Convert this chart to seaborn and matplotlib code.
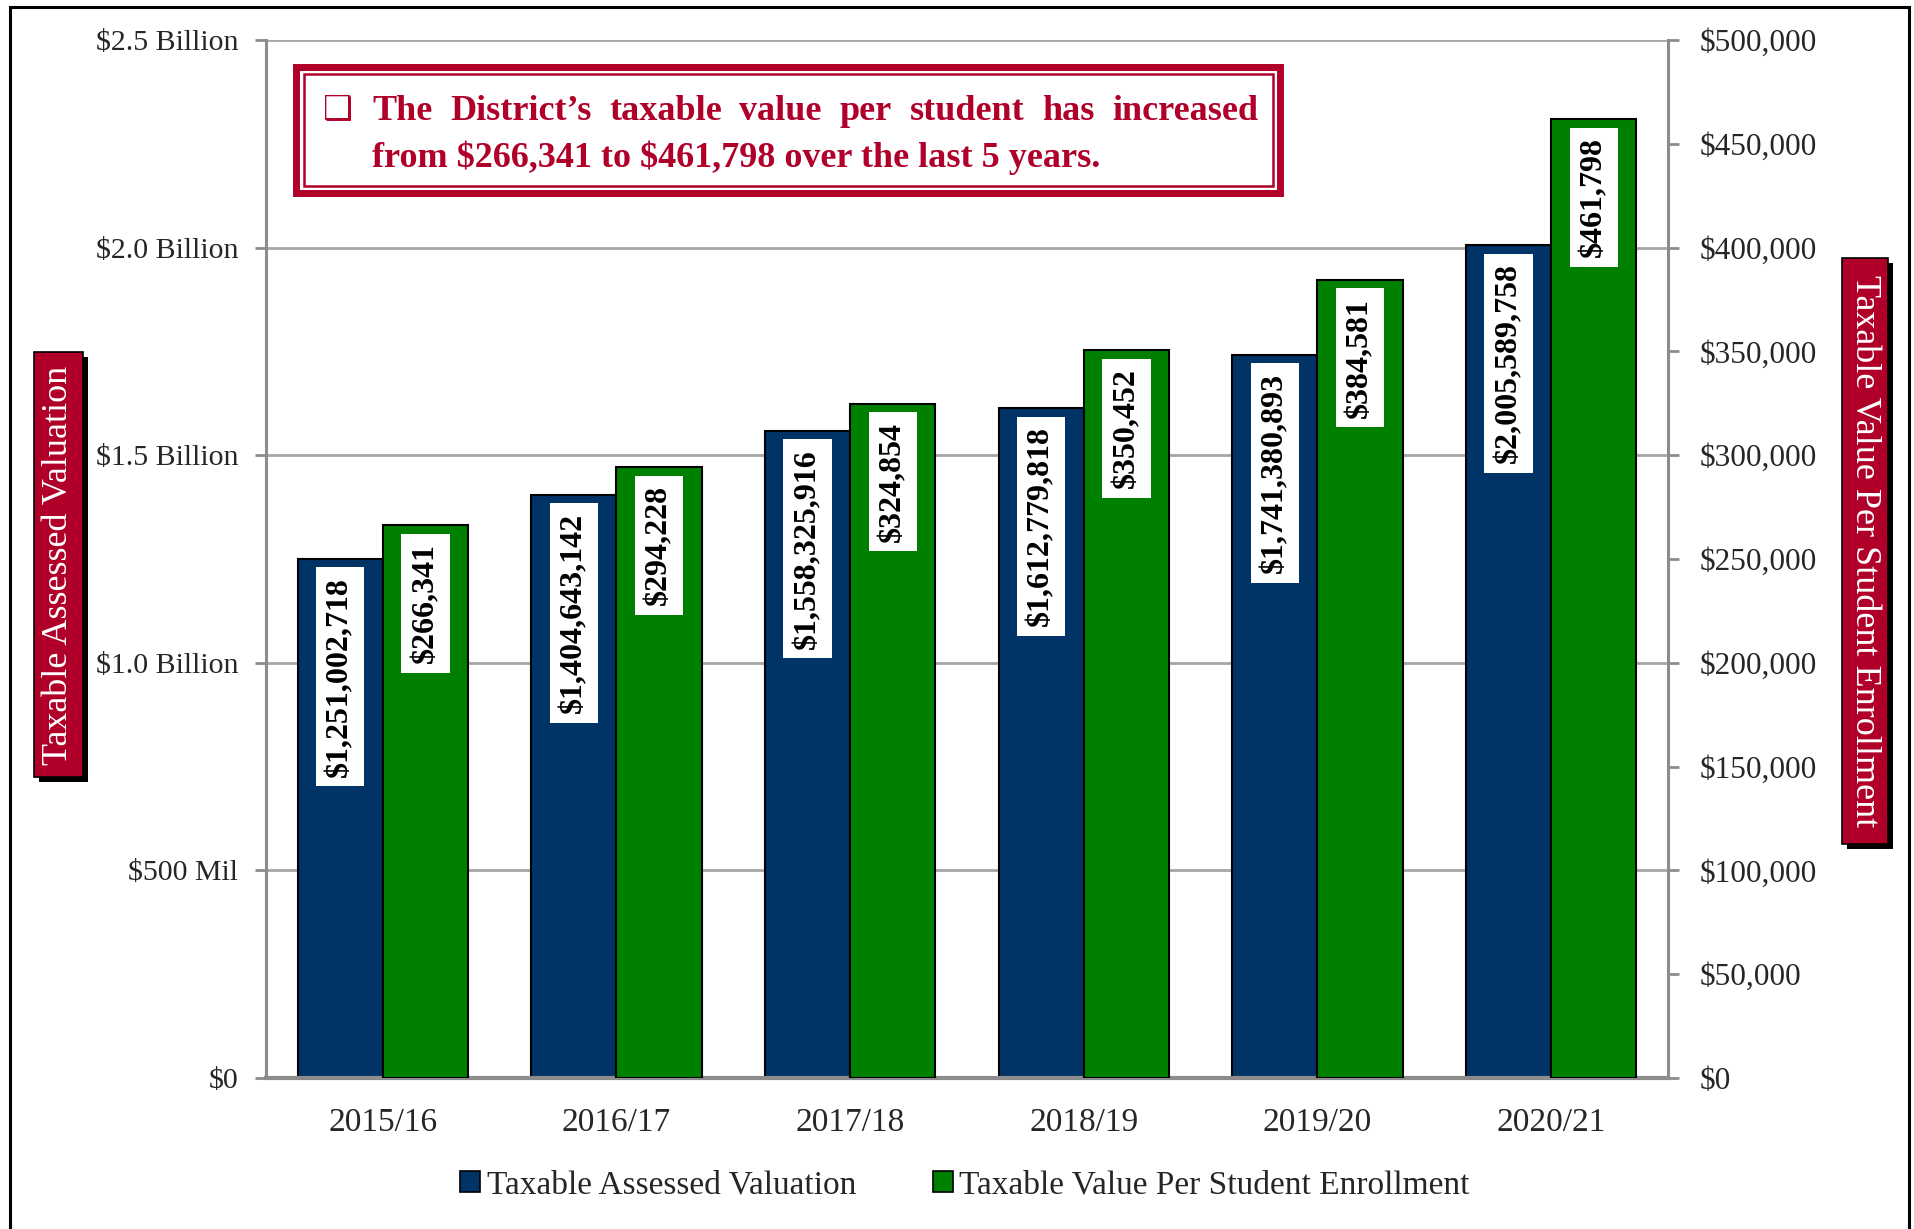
import numpy as np
import pandas as pd
import matplotlib
matplotlib.use('Agg')
import matplotlib.pyplot as plt
from matplotlib.patches import Rectangle, Patch
import seaborn as sns

# --- data ---
years = ['2015/16', '2016/17', '2017/18', '2018/19', '2019/20', '2020/21']
assessed_valuation = [1251002718, 1404643142, 1558325916, 1612779818, 1741380893, 2005589758]
value_per_student = [266341, 294228, 324854, 350452, 384581, 461798]
series_names = ['Taxable Assessed Valuation', 'Taxable Value Per Student Enrollment']
series_colors = ['#003366', '#008000']

left_ticks = [0, 0.5e9, 1.0e9, 1.5e9, 2.0e9, 2.5e9]
left_tick_labels = ['$0', '$500 Mil', '$1.0 Billion', '$1.5 Billion', '$2.0 Billion', '$2.5 Billion']
right_ticks = [0, 50000, 100000, 150000, 200000, 250000, 300000, 350000, 400000, 450000, 500000]
right_tick_labels = ['$0', '$50,000', '$100,000', '$150,000', '$200,000', '$250,000',
                     '$300,000', '$350,000', '$400,000', '$450,000', '$500,000']

callout_line1 = 'The District\u2019s taxable value per student has increased'
callout_line2 = 'from $266,341 to $461,798 over the last 5 years.'

df = pd.DataFrame({
    'year': years * 2,
    'series': [series_names[0]] * len(years) + [series_names[1]] * len(years),
    'value': assessed_valuation + value_per_student,
})

sns.set_style('white')
plt.rcParams['font.family'] = ['Liberation Serif', 'DejaVu Sans']
plt.rcParams['text.parse_math'] = False

W, H = 1915, 1229
RED = '#B0002A'
GRAY = '#8c8c8c'


def fx(x):
    return x / W


def fy(y):
    return 1 - y / H


def frect(x0, y0, x1, y1, **kw):
    # rectangle given in pixel coords measured from the top-left
    return Rectangle((fx(x0), fy(y1)), fx(x1) - fx(x0), fy(y0) - fy(y1),
                     transform=fig.transFigure, **kw)


fig = plt.figure(figsize=(W / 100, H / 100), dpi=100)
ax = fig.add_axes([fx(266), fy(1078), fx(1668) - fx(266), fy(40) - fy(1078)])
ax2 = ax.twinx()

palette = dict(zip(series_names, series_colors))
for a, name in ((ax, series_names[0]), (ax2, series_names[1])):
    sns.barplot(data=df[df['series'] == name], x='year', y='value', hue='series',
                hue_order=series_names, order=years, palette=palette, width=0.73,
                dodge=True, saturation=1, edgecolor='black', linewidth=1.5,
                errorbar=None, legend=False, ax=a)

ax.set_ylim(0, 2.5e9)
ax2.set_ylim(0, 500000)
ax.set_xlim(-0.5, 5.5)

# value labels inside the top of each bar
for a in (ax, ax2):
    bars = sorted([p for p in a.patches if p.get_height() > 0], key=lambda p: p.get_x())
    for p in bars:
        h = p.get_height()
        a.annotate(f'${h:,.0f}', xy=(p.get_x() + p.get_width() / 2, h),
                   xytext=(0, -13), textcoords='offset points', rotation=90,
                   ha='center', va='top', fontsize=23, fontweight='bold', color='black',
                   bbox=dict(boxstyle='square,pad=0.3', fc='white', ec='none'), zorder=5)

# axes styling
ax.set_yticks(left_ticks, left_tick_labels)
ax2.set_yticks(right_ticks, right_tick_labels)
ax.yaxis.grid(True, color='#a6a6a6', linewidth=2)
ax.set_axisbelow(True)
ax.set_xticks(range(len(years)), years)
ax.set_xticks(np.arange(-0.5, len(years), 1), minor=True)
ax.tick_params(axis='x', which='major', length=0, pad=21, labelsize=24)
ax.tick_params(axis='x', which='minor', length=9, width=2, color=GRAY, direction='out')
ax.tick_params(axis='y', length=8, width=2, color=GRAY, direction='out', pad=12, labelsize=21.5)
ax2.tick_params(axis='y', length=8, width=2, color=GRAY, direction='out', pad=15, labelsize=22.5)
for a in (ax, ax2):
    a.set_xlabel('')
    a.set_ylabel('')

ax.spines['top'].set_visible(False)
ax.spines['right'].set_visible(False)
ax.spines['left'].set_color(GRAY)
ax.spines['left'].set_linewidth(2.2)
ax.spines['bottom'].set_color(GRAY)
ax.spines['bottom'].set_linewidth(3)
for s in ('top', 'left', 'bottom'):
    ax2.spines[s].set_visible(False)
ax2.spines['right'].set_color(GRAY)
ax2.spines['right'].set_linewidth(2.2)

# legend
handles = [Patch(facecolor=c, edgecolor='black', linewidth=1.2) for c in series_colors]
fig.legend(handles=handles, labels=series_names, loc='center', bbox_to_anchor=(fx(965), fy(1185)),
           ncol=2, frameon=False, fontsize=24, handlelength=0.6, handleheight=0.6,
           handletextpad=0.2, columnspacing=2.3)

# outer frame
fig.add_artist(frect(10, 7, 1909, 1245, fill=False, edgecolor='black', linewidth=2.2))

# callout box with double red border
fig.add_artist(frect(296.5, 67, 1280.5, 193, facecolor='white', edgecolor=RED, linewidth=5))
fig.add_artist(frect(304, 74, 1273, 186, fill=False, edgecolor=RED, linewidth=1.8))
fig.text(fx(338), fy(110), '\u2751', fontsize=24, color=RED, ha='center', va='center',
         family=['DejaVu Sans'])

# first line is justified between x=372 and x=1258 px
callout_font = dict(fontsize=26, fontweight='bold', color=RED, va='center')
renderer = fig.canvas.get_renderer()
words = callout_line1.split(' ')
word_texts = [fig.text(0, fy(112), w, ha='left', **callout_font) for w in words]
widths = [t.get_window_extent(renderer).width for t in word_texts]
gap = (1258 - 372 - sum(widths)) / (len(words) - 1)
x = 372
for t, w in zip(word_texts, widths):
    t.set_x(fx(x))
    x += w + gap
fig.text(fx(372), fy(158), callout_line2, ha='left', **callout_font)

# side axis titles in red boxes with drop shadow
fig.add_artist(frect(39, 357, 88, 782, facecolor='black', edgecolor='none'))
fig.add_artist(frect(34, 352, 83, 777, facecolor=RED, edgecolor='black', linewidth=1.2))
fig.text(fx(58.5), fy(565), series_names[0], rotation=90, fontsize=26, color='white',
         ha='center', va='center')
fig.add_artist(frect(1847, 263, 1893, 849, facecolor='black', edgecolor='none'))
fig.add_artist(frect(1842, 258, 1888, 844, facecolor=RED, edgecolor='black', linewidth=1.2))
fig.text(fx(1865), fy(551), series_names[1], rotation=270, fontsize=26, color='white',
         ha='center', va='center')

fig.savefig('out.png', dpi=100)
